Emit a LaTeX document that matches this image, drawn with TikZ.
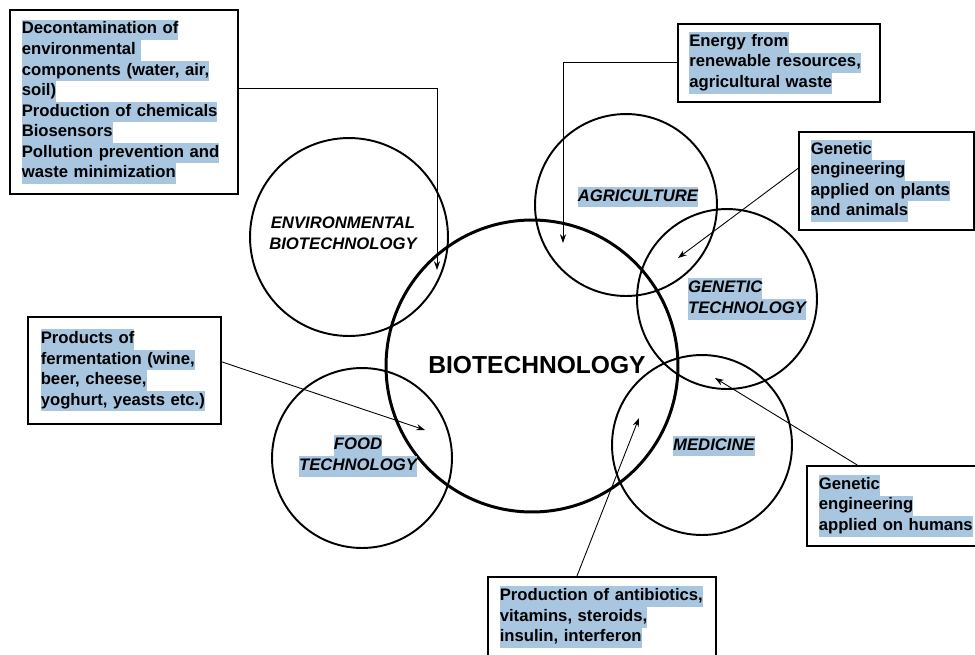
\documentclass[tikz,border=0pt]{standalone}
\usepackage{fontspec}
\setmainfont{Liberation Sans}
\usepackage{tikz}
\usetikzlibrary{arrows.meta}
\definecolor{hlblue}{RGB}{168,198,224}
\newcommand{\hl}[1]{{\setlength{\fboxsep}{0pt}\colorbox{hlblue}{\strut #1}}}
\tikzset{
  infobox/.style={rectangle, draw=black, line width=0.9pt, anchor=north west,
                  align=left, inner xsep=0.24cm, inner ysep=0pt,
                  font={\fontsize{9.5}{11.7}\selectfont\bfseries}},
  zone/.style={circle, draw=black, line width=1.1pt, inner sep=0pt},
  arrow/.style={-{Stealth[length=5pt, width=3.5pt]}, line width=0.5pt},
}

\begin{document}
\begin{tikzpicture}[
    x=0.02cm,
    y=-0.02cm,
    zonetext/.style={align=center, inner sep=0pt,
                     font={\fontsize{9.5}{11.7}\selectfont\bfseries\itshape}},
  ]
    \useasboundingbox (0,0) rectangle (975,654);

    % Circles: fields of biotechnology round the central one
    \node[zone, line width=1.7pt, minimum size=5.84cm] (bio)  at (532,366) {};
    \node[zone, minimum size=3.96cm] (env)  at (349,237) {};
    \node[zone, minimum size=3.64cm] (agri) at (626,205) {};
    \node[zone, minimum size=3.60cm] (gen)  at (727,299) {};
    \node[zone, minimum size=3.60cm] (med)  at (702,445) {};
    \node[zone, minimum size=3.60cm] (food) at (362,458) {};

    % Circle labels
    \node[zonetext] (envText)  at (343,233) {ENVIRONMENTAL\\BIOTECHNOLOGY};
    \node[zonetext] (agriText) at (638,197) {\hl{AGRICULTURE}};
    \node[zonetext, align=left] (genText) at (747,299) {\hl{GENETIC}\\\hl{TECHNOLOGY}};
    \node[zonetext] (medText)  at (714,446) {\hl{MEDICINE}};
    \node[zonetext] (foodText) at (358,456) {\hl{FOOD}\\\hl{TECHNOLOGY}};
    \node[font=\fontsize{14}{16}\selectfont\bfseries, inner sep=0pt] (bioText) at (537,365) {BIOTECHNOLOGY};

    % Boxes with applications
    \node[infobox, text width=4.08cm, minimum height=3.68cm] (envBox) at (9,9)
      {\hl{Decontamination of}\\\hl{environmental }\\\hl{components (water, air,}\\\hl{soil)}\\
       \hl{Production of chemicals}\\\hl{Biosensors}\\\hl{Pollution prevention and}\\\hl{waste minimization}};
    \node[infobox, text width=3.58cm, inner xsep=0.23cm, minimum height=1.56cm] (energyBox) at (677,23)
      {\hl{Energy from}\\\hl{renewable resources,}\\\hl{agricultural waste}};
    \node[infobox, text width=3.02cm, minimum height=1.96cm] (plantBox) at (798,131)
      {\hl{Genetic}\\\hl{engineering}\\\hl{applied on plants}\\\hl{and animals}};
    \node[infobox, text width=3.34cm, inner xsep=0.26cm, minimum height=2.14cm] (fermBox) at (27,316)
      {\hl{Products of}\\\hl{fermentation (wine,}\\\hl{beer, cheese,}\\\hl{yoghurt, yeasts etc.)}};
    \node[infobox, text width=3.06cm, minimum height=1.60cm] (humBox) at (806,465)
      {\hl{Genetic}\\\hl{engineering}\\\hl{applied on humans}};
    \node[infobox, text width=4.08cm, minimum height=1.62cm] (antiBox) at (487,576)
      {\hl{Production of antibiotics,}\\\hl{vitamins, steroids,}\\\hl{insulin, interferon}};

    % Arrow ends inside the circles
    \coordinate (envTurn) at (437,88);
    \coordinate (envTip)  at (437,270);
    \coordinate (agriTip) at (563,243);
    \coordinate (genTip)  at (678,258);
    \coordinate (foodTip) at (425,430);
    \coordinate (humTip)  at (715,378);
    \coordinate (medTip)  at (639,418);

    % Connectors
    \draw[arrow] (envBox.east |- envTurn) -| (envTip);
    \draw[arrow] (energyBox.west) -| (agriTip);
    \draw[arrow] (plantBox.172) -- (genTip);
    \draw[arrow] (fermBox.5) -- (foodTip);
    \draw[arrow] (humBox.133) -- (humTip);
    \draw[arrow] (antiBox.121) -- (medTip);

  \end{tikzpicture}
\end{document}
